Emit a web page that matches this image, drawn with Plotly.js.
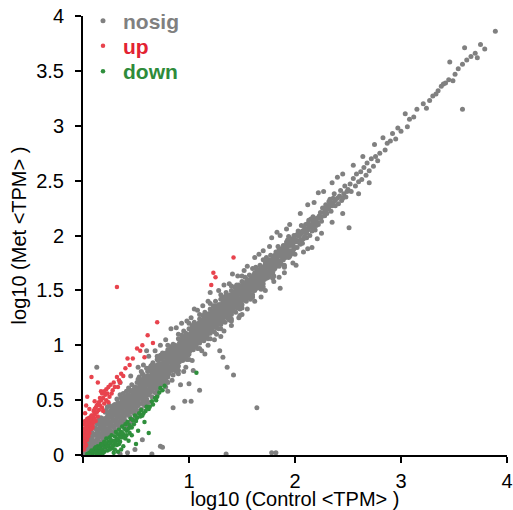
<!DOCTYPE html>
<html>
<head>
<meta charset="utf-8">
<script src="https://cdn.plot.ly/plotly-3.0.1.min.js"></script>
<style>html,body{margin:0;padding:0;background:#fff;}#chart{width:513px;height:510px;}</style>
</head>
<body>
<div id="chart"></div>
<script>
// Series names
const seriesNames = ['nosig', 'up', 'down'];
// Axis tick labels
const xTickVals = [0, 1, 2, 3, 4];
const xTickText = ['', '1', '2', '3', '4'];
const yTickVals = [0, 0.5, 1, 1.5, 2, 2.5, 3, 3.5, 4];
const yTickText = ['0', '0.5', '1', '1.5', '2', '2.5', '3', '3.5', '4'];

// [log10 Control TPM, log10 Met TPM] pairs
const nosigPoints = [
[0.01,0.02],[0.02,0.06],[0.03,0.01],[0.03,0.11],[0.04,0.04],[0.05,0.15],[0.05,0.08],[0.06,0.02],[0.06,0.12],[0.07,0.18],[0.07,0.06],[0.08,0.10],[0.08,0.21],[0.09,0.03],[0.09,0.14],[0.10,0.07],[0.10,0.19],[0.04,0.09],[0.02,0.13],[0.06,0.16],
[0.11,0.12],[0.11,0.25],[0.12,0.05],[0.12,0.18],[0.13,0.29],[0.13,0.10],[0.14,0.22],[0.14,0.15],[0.15,0.32],[0.15,0.08],[0.16,0.19],[0.16,0.27],[0.17,0.12],[0.17,0.34],[0.18,0.23],[0.18,0.16],[0.19,0.30],[0.19,0.10],[0.20,0.26],[0.20,0.19],[0.13,0.20],[0.17,0.26],
[0.21,0.15],[0.21,0.33],[0.22,0.24],[0.22,0.41],[0.23,0.19],[0.23,0.29],[0.24,0.37],[0.24,0.22],[0.25,0.45],[0.25,0.30],[0.26,0.18],[0.26,0.35],[0.27,0.27],[0.27,0.42],[0.28,0.21],[0.28,0.33],[0.29,0.39],[0.29,0.26],[0.30,0.46],[0.30,0.31],[0.22,0.31],[0.24,0.28],[0.26,0.40],[0.28,0.44],[0.30,0.23],
[0.31,0.36],[0.31,0.27],[0.32,0.44],[0.32,0.51],[0.33,0.30],[0.33,0.39],[0.34,0.47],[0.34,0.25],[0.35,0.55],[0.35,0.34],[0.36,0.42],[0.36,0.29],[0.37,0.49],[0.37,0.37],[0.38,0.32],[0.38,0.56],[0.39,0.44],[0.39,0.39],[0.40,0.51],[0.40,0.31],[0.32,0.34],[0.34,0.41],[0.35,0.45],[0.36,0.52],[0.37,0.28],[0.38,0.46],[0.39,0.53],[0.33,0.48],
[0.41,0.45],[0.41,0.37],[0.42,0.55],[0.42,0.49],[0.43,0.41],[0.43,0.61],[0.44,0.35],[0.44,0.52],[0.45,0.46],[0.45,0.58],[0.46,0.40],[0.46,0.64],[0.47,0.50],[0.47,0.44],[0.48,0.56],[0.48,0.38],[0.49,0.62],[0.49,0.48],[0.50,0.53],[0.50,0.43],[0.41,0.58],[0.42,0.42],[0.43,0.50],[0.44,0.59],[0.45,0.39],[0.46,0.54],[0.47,0.59],[0.48,0.47],[0.49,0.41],[0.50,0.61],
[0.51,0.49],[0.51,0.66],[0.52,0.56],[0.52,0.45],[0.53,0.62],[0.53,0.71],[0.54,0.52],[0.54,0.59],[0.55,0.47],[0.55,0.68],[0.56,0.55],[0.56,0.63],[0.57,0.73],[0.57,0.50],[0.58,0.60],[0.58,0.57],[0.59,0.67],[0.59,0.48],[0.60,0.64],[0.60,0.55],[0.51,0.58],[0.52,0.69],[0.53,0.53],[0.54,0.65],[0.55,0.58],[0.56,0.74],[0.57,0.61],[0.58,0.70],[0.59,0.56],[0.60,0.71],
[0.61,0.59],[0.61,0.76],[0.62,0.67],[0.62,0.55],[0.63,0.72],[0.63,0.63],[0.64,0.81],[0.64,0.58],[0.65,0.69],[0.65,0.75],[0.66,0.61],[0.66,0.84],[0.67,0.71],[0.67,0.66],[0.68,0.78],[0.68,0.57],[0.69,0.73],[0.69,0.64],[0.70,0.82],[0.70,0.68],[0.61,0.69],[0.62,0.79],[0.63,0.57],[0.64,0.70],[0.65,0.62],[0.66,0.74],[0.67,0.80],[0.68,0.67],[0.69,0.77],[0.70,0.60],
[0.71,0.72],[0.71,0.86],[0.72,0.65],[0.72,0.79],[0.73,0.91],[0.73,0.74],[0.74,0.68],[0.74,0.83],[0.75,0.77],[0.75,0.89],[0.76,0.71],[0.76,0.64],[0.77,0.85],[0.77,0.80],[0.78,0.93],[0.78,0.73],[0.79,0.67],[0.79,0.87],[0.80,0.81],[0.80,0.76],[0.71,0.78],[0.72,0.88],[0.73,0.69],[0.74,0.76],[0.75,0.70],[0.76,0.92],[0.77,0.74],[0.78,0.83],[0.79,0.78],[0.80,0.90],
[0.81,0.85],[0.81,0.74],[0.82,0.93],[0.82,0.80],[0.83,0.88],[0.83,0.98],[0.84,0.77],[0.84,0.91],[0.85,0.84],[0.85,0.73],[0.86,0.95],[0.86,0.87],[0.87,0.80],[0.87,1.00],[0.88,0.90],[0.88,0.76],[0.89,0.94],[0.89,0.85],[0.90,0.99],[0.90,0.81],[0.81,0.96],[0.82,0.86],[0.83,0.79],[0.84,0.99],[0.85,0.92],[0.86,0.78],[0.87,0.89],[0.88,0.97],[0.89,0.79],[0.90,0.91],
[0.91,0.95],[0.91,0.85],[0.92,1.04],[0.92,0.90],[0.93,0.98],[0.93,1.09],[0.94,0.86],[0.94,1.01],[0.95,0.93],[0.95,1.06],[0.96,0.89],[0.96,0.99],[0.97,1.11],[0.97,0.94],[0.98,1.03],[0.98,0.87],[0.99,0.97],[0.99,1.08],[1.00,1.02],[1.00,0.92],[0.91,1.02],[0.92,0.97],[0.93,0.91],[0.94,1.07],[0.95,0.99],[0.96,1.05],[0.97,0.88],[0.98,1.10],[0.99,0.91],[1.00,1.09],
[1.01,1.05],[1.01,0.95],[1.02,1.13],[1.02,1.00],[1.03,1.08],[1.03,1.18],[1.04,0.96],[1.04,1.11],[1.05,1.03],[1.05,1.15],[1.06,0.99],[1.06,1.09],[1.07,1.19],[1.07,1.04],[1.08,1.12],[1.08,0.97],[1.09,1.07],[1.09,1.17],[1.10,1.10],[1.10,1.02],[1.02,1.07],[1.03,0.99],[1.04,1.16],[1.06,1.14],[1.07,1.01],[1.08,1.06],[1.09,1.13],[1.10,1.19],
[1.11,1.14],[1.11,1.05],[1.12,1.21],[1.12,1.09],[1.13,1.17],[1.13,1.27],[1.14,1.04],[1.14,1.20],[1.15,1.12],[1.15,1.25],[1.16,1.08],[1.16,1.18],[1.17,1.28],[1.17,1.13],[1.18,1.22],[1.18,1.06],[1.19,1.16],[1.19,1.26],[1.20,1.19],[1.20,1.11],[1.12,1.15],[1.13,1.10],[1.14,1.24],[1.16,1.23],[1.17,1.09],[1.18,1.15],[1.19,1.21],[1.20,1.27],
[1.21,1.23],[1.21,1.13],[1.22,1.30],[1.22,1.18],[1.23,1.26],[1.23,1.36],[1.24,1.12],[1.24,1.28],[1.25,1.21],[1.25,1.33],[1.26,1.16],[1.26,1.26],[1.27,1.35],[1.27,1.22],[1.28,1.30],[1.28,1.15],[1.29,1.25],[1.29,1.34],[1.30,1.28],[1.30,1.19],[1.22,1.24],[1.24,1.33],[1.25,1.17],[1.27,1.29],[1.28,1.37],[1.30,1.23],
[1.31,1.32],[1.31,1.22],[1.32,1.39],[1.32,1.27],[1.33,1.35],[1.33,1.44],[1.34,1.21],[1.34,1.37],[1.35,1.30],[1.35,1.42],[1.36,1.25],[1.36,1.34],[1.37,1.45],[1.37,1.29],[1.38,1.38],[1.38,1.23],[1.39,1.33],[1.39,1.43],[1.40,1.36],[1.40,1.28],[1.32,1.33],[1.34,1.41],[1.35,1.26],[1.37,1.36],[1.39,1.40],
[1.41,1.40],[1.41,1.31],[1.42,1.48],[1.42,1.36],[1.43,1.44],[1.43,1.53],[1.44,1.30],[1.44,1.46],[1.45,1.39],[1.45,1.51],[1.46,1.34],[1.46,1.43],[1.47,1.55],[1.47,1.38],[1.48,1.47],[1.48,1.33],[1.49,1.42],[1.49,1.52],[1.50,1.45],[1.50,1.37],[1.42,1.42],[1.44,1.50],[1.46,1.48],[1.48,1.40],
[1.51,1.50],[1.51,1.41],[1.52,1.57],[1.52,1.45],[1.53,1.53],[1.53,1.62],[1.54,1.40],[1.54,1.55],[1.55,1.48],[1.55,1.60],[1.56,1.44],[1.56,1.53],[1.57,1.64],[1.57,1.47],[1.58,1.56],[1.58,1.42],[1.59,1.51],[1.59,1.61],[1.60,1.55],[1.60,1.46],[1.53,1.47],[1.56,1.59],
[1.61,1.59],[1.61,1.50],[1.62,1.66],[1.62,1.54],[1.63,1.62],[1.63,1.71],[1.64,1.52],[1.64,1.64],[1.65,1.57],[1.65,1.69],[1.66,1.53],[1.66,1.62],[1.67,1.73],[1.67,1.57],[1.68,1.65],[1.68,1.51],[1.69,1.60],[1.69,1.70],[1.70,1.64],[1.70,1.56],
[1.71,1.68],[1.71,1.60],[1.72,1.75],[1.72,1.63],[1.73,1.71],[1.73,1.80],[1.74,1.62],[1.74,1.73],[1.75,1.67],[1.76,1.78],[1.76,1.64],[1.77,1.72],[1.77,1.82],[1.78,1.68],[1.78,1.76],[1.79,1.61],[1.80,1.74],[1.80,1.80],
[1.81,1.78],[1.81,1.70],[1.82,1.85],[1.83,1.74],[1.83,1.81],[1.84,1.90],[1.85,1.72],[1.85,1.83],[1.86,1.77],[1.87,1.88],[1.87,1.74],[1.88,1.82],[1.89,1.91],[1.89,1.78],[1.90,1.85],[1.90,1.71],
[1.91,1.87],[1.91,1.80],[1.92,1.94],[1.93,1.83],[1.93,1.90],[1.94,1.99],[1.95,1.81],[1.95,1.92],[1.96,1.86],[1.97,1.97],[1.97,1.84],[1.98,1.91],[1.99,2.00],[1.99,1.88],[2.00,1.94],
[2.01,1.96],[2.02,1.89],[2.03,2.04],[2.04,1.95],[2.05,2.01],[2.06,2.09],[2.07,1.93],[2.08,2.03],[2.09,1.99],[2.10,2.10],[2.11,1.98],[2.12,2.05],[2.13,2.14],[2.14,2.00],[2.15,2.08],[2.16,2.04],[2.17,2.17],[2.18,2.06],[2.19,2.12],[2.20,2.09],[2.05,1.92],[2.15,2.15],
[2.21,2.16],[2.22,2.10],[2.24,2.21],[2.25,2.13],[2.26,2.25],[2.28,2.18],[2.29,2.28],[2.30,2.20],[2.32,2.26],[2.33,2.33],[2.34,2.22],[2.36,2.30],[2.37,2.38],[2.38,2.27],[2.40,2.34],[2.41,2.29],[2.43,2.41],[2.44,2.32],[2.46,2.38],[2.47,2.45],[2.48,2.35],[2.50,2.42],
[2.52,2.47],[2.53,2.40],[2.55,2.52],[2.57,2.45],[2.58,2.56],[2.60,2.49],[2.62,2.58],[2.63,2.51],[2.65,2.62],[2.67,2.55],[2.68,2.66],[2.70,2.59],[2.72,2.70],[2.74,2.63],[2.76,2.72],[2.78,2.68],
[2.80,2.75],[2.83,2.89],[2.85,2.78],[2.87,2.84],[2.90,2.86],[2.92,2.93],[2.95,2.88],[2.97,2.98],[3.00,2.95],[3.04,3.11],[3.06,2.99],[3.08,3.06],[3.12,3.08],[3.15,3.15],
[3.21,3.20],[3.24,3.16],[3.27,3.23],[3.30,3.27],[3.33,3.29],[3.35,3.32],[3.38,3.36],[3.40,3.38],[3.42,3.39],[3.45,3.42],[3.46,3.58],[3.49,3.41],[3.51,3.47],[3.54,3.52],[3.58,3.56],[3.60,3.71],[3.62,3.60],[3.66,3.63],[3.70,3.66],[3.72,3.62],[3.75,3.74],[3.79,3.70],[3.89,3.86],[3.58,3.15],
[0.13,0.80],[0.56,0.14],[0.75,0.07],[0.49,0.05],[0.73,0.08],[0.85,0.43],[0.92,0.64],[0.96,0.49],[1.02,0.49],[1.00,0.65],[1.04,0.77],[1.10,0.59],[1.32,0.89],[1.36,0.80],[1.42,0.73],[1.64,0.43],[1.26,1.10],[1.29,0.95],[1.40,1.22],[1.48,1.27],[1.86,1.52],[2.01,1.73],[2.16,1.89],[2.21,1.97],[2.51,2.07],[0.35,0.01],[0.42,0.02],[0.65,0.01],[1.35,0.01],[1.78,0.02],[1.82,0.02],[0.60,0.95],[0.83,1.15],[1.05,1.33],[1.20,1.48],[1.41,1.65],[1.78,1.98],[1.83,2.03],[2.22,2.39],[2.40,2.53],
[0.01,0.09],[0.02,0.03],[0.03,0.17],[0.04,0.13],[0.05,0.01],[0.05,0.11],[0.07,0.03],[0.07,0.13],[0.08,0.16],[0.09,0.08],[0.09,0.20],[0.10,0.12],[0.11,0.03],[0.11,0.18],[0.12,0.10],[0.12,0.24],[0.13,0.14],[0.14,0.05],[0.14,0.28],[0.15,0.17],[0.15,0.24],[0.16,0.11],[0.16,0.31],[0.17,0.07],[0.18,0.20],[0.18,0.29],[0.19,0.14],[0.19,0.24],[0.20,0.09],[0.20,0.33],
[0.21,0.21],[0.21,0.39],[0.22,0.18],[0.22,0.28],[0.23,0.35],[0.23,0.44],[0.24,0.17],[0.24,0.32],[0.25,0.25],[0.25,0.38],[0.26,0.22],[0.26,0.30],[0.27,0.36],[0.27,0.20],[0.28,0.26],[0.28,0.39],[0.29,0.31],[0.29,0.45],[0.30,0.27],[0.30,0.37],[0.31,0.31],[0.31,0.42],[0.32,0.39],[0.32,0.28],[0.33,0.35],[0.33,0.44],[0.34,0.30],[0.34,0.36],[0.35,0.40],[0.35,0.29],[0.36,0.47],[0.36,0.35],[0.37,0.42],[0.37,0.33],[0.38,0.39],[0.38,0.50],[0.39,0.34],[0.39,0.48],[0.40,0.45],[0.40,0.38],
[0.41,0.41],[0.41,0.51],[0.42,0.38],[0.42,0.46],[0.43,0.45],[0.43,0.55],[0.44,0.44],[0.44,0.40],[0.45,0.51],[0.45,0.43],[0.46,0.47],[0.46,0.58],[0.47,0.40],[0.47,0.55],[0.48,0.51],[0.48,0.60],[0.49,0.45],[0.49,0.56],[0.50,0.48],[0.50,0.57],[0.51,0.53],[0.51,0.45],[0.52,0.61],[0.52,0.50],[0.53,0.57],[0.53,0.47],[0.54,0.55],[0.54,0.69],[0.55,0.52],[0.55,0.62],[0.56,0.59],[0.56,0.51],[0.57,0.56],[0.57,0.66],[0.58,0.53],[0.58,0.64],[0.59,0.60],[0.59,0.71],[0.60,0.51],[0.60,0.59],
[0.61,0.64],[0.61,0.55],[0.62,0.72],[0.62,0.60],[0.63,0.67],[0.63,0.77],[0.64,0.62],[0.64,0.66],[0.65,0.71],[0.65,0.58],[0.66,0.65],[0.66,0.78],[0.67,0.62],[0.67,0.75],[0.68,0.70],[0.68,0.62],[0.69,0.68],[0.69,0.81],[0.70,0.73],[0.70,0.64],[0.71,0.75],[0.71,0.67],[0.72,0.70],[0.72,0.83],[0.73,0.78],[0.73,0.64],[0.74,0.73],[0.74,0.87],[0.75,0.80],[0.75,0.67],[0.76,0.76],[0.76,0.84],[0.77,0.70],[0.77,0.89],[0.78,0.79],[0.78,0.68],[0.79,0.82],[0.79,0.73],[0.80,0.86],[0.80,0.71],
[0.81,0.80],[0.81,0.90],[0.82,0.77],[0.82,0.89],[0.83,0.84],[0.83,0.93],[0.84,0.82],[0.84,0.87],[0.85,0.96],[0.85,0.80],[0.86,0.83],[0.86,0.91],[0.87,0.85],[0.87,0.94],[0.88,0.86],[0.88,0.81],[0.89,0.89],[0.89,0.98],[0.90,0.86],[0.90,0.95],[0.91,0.90],[0.91,0.99],[0.92,0.87],[0.92,0.94],[0.93,1.02],[0.93,0.95],[0.94,0.91],[0.94,0.97],[0.95,0.89],[0.95,1.02],[0.96,0.95],[0.96,1.08],[0.97,0.98],[0.97,1.05],[0.98,0.93],[0.98,1.00],[0.99,1.03],[0.99,0.95],[1.00,0.98],[1.00,1.05],
[1.01,1.00],[1.01,1.10],[1.02,0.97],[1.02,1.04],[1.03,1.03],[1.03,1.13],[1.04,1.06],[1.04,1.01],[1.05,1.09],[1.05,0.99],[1.06,1.04],[1.06,1.17],[1.07,1.08],[1.07,1.13],[1.08,1.02],[1.08,1.16],[1.09,1.10],[1.09,1.03],[1.10,1.06],[1.10,1.14],[1.11,1.09],[1.11,1.19],[1.12,1.06],[1.12,1.13],[1.13,1.21],[1.13,1.14],[1.14,1.08],[1.14,1.16],[1.15,1.18],[1.15,1.07],[1.16,1.13],[1.16,1.27],[1.17,1.17],[1.17,1.22],[1.18,1.11],[1.18,1.26],[1.19,1.12],[1.19,1.19],[1.20,1.23],[1.20,1.15],
[1.21,1.18],[1.21,1.29],[1.22,1.15],[1.22,1.21],[1.23,1.31],[1.23,1.20],[1.24,1.24],[1.24,1.17],[1.25,1.27],[1.25,1.36],[1.26,1.21],[1.26,1.31],[1.27,1.19],[1.27,1.25],[1.28,1.34],[1.28,1.22],[1.29,1.29],[1.29,1.20],[1.30,1.32],[1.30,1.37],[1.31,1.27],[1.31,1.37],[1.32,1.24],[1.32,1.30],[1.33,1.40],[1.33,1.26],[1.34,1.33],[1.34,1.28],[1.35,1.35],[1.35,1.45],[1.36,1.30],[1.36,1.39],[1.37,1.33],[1.37,1.40],[1.38,1.27],[1.38,1.43],[1.39,1.37],[1.39,1.30],[1.40,1.41],[1.40,1.32],
[1.41,1.35],[1.41,1.45],[1.42,1.39],[1.42,1.33],[1.43,1.48],[1.43,1.38],[1.44,1.42],[1.44,1.35],[1.45,1.47],[1.45,1.43],[1.46,1.38],[1.46,1.52],[1.47,1.42],[1.47,1.48],[1.48,1.37],[1.48,1.51],[1.49,1.46],[1.49,1.39],[1.50,1.49],[1.50,1.54],[1.51,1.45],[1.51,1.55],[1.52,1.49],[1.52,1.42],[1.53,1.57],[1.54,1.51],[1.54,1.46],[1.55,1.53],[1.55,1.43],[1.56,1.49],[1.57,1.56],[1.57,1.52],[1.58,1.60],[1.58,1.50],[1.59,1.46],[1.59,1.56],[1.60,1.51],[1.60,1.62],
[1.61,1.55],[1.61,1.64],[1.62,1.58],[1.62,1.50],[1.63,1.66],[1.63,1.56],[1.64,1.60],[1.64,1.69],[1.65,1.53],[1.65,1.62],[1.66,1.58],[1.66,1.67],[1.67,1.61],[1.67,1.53],[1.68,1.70],[1.68,1.59],[1.69,1.65],[1.69,1.55],[1.70,1.60],[1.70,1.69],[1.71,1.64],[1.72,1.69],[1.73,1.61],[1.73,1.66],[1.74,1.77],[1.75,1.72],[1.75,1.62],[1.76,1.70],[1.77,1.67],[1.78,1.72],[1.79,1.66],[1.79,1.78],[1.80,1.69],
[1.81,1.74],[1.82,1.72],[1.82,1.79],[1.84,1.76],[1.84,1.84],[1.86,1.81],[1.86,1.74],[1.88,1.78],[1.88,1.86],[1.90,1.80],[1.91,1.83],[1.92,1.89],[1.94,1.86],[1.94,1.80],[1.96,1.91],[1.96,1.83],[1.98,1.86],[1.98,1.95],[2.00,1.89],[2.01,2.00],[2.03,1.94],[2.04,1.99],[2.06,1.96],[2.07,2.04],[2.08,1.97],[2.10,2.05],[2.11,2.02],[2.13,2.07],[2.14,2.10],[2.16,2.09],[2.18,2.13],[2.19,2.05],[2.21,2.12],[2.23,2.18],[2.25,2.17],[2.27,2.21],[2.29,2.23],[2.31,2.24],[2.33,2.28],[2.35,2.27],[2.38,2.32],[2.42,2.36],[2.45,2.34],[2.49,2.40],
[0.45,0.50],[0.47,0.47],[0.49,0.53],[0.51,0.61],[0.53,0.66],[0.55,0.55],[0.57,0.69],[0.59,0.63],[0.61,0.72],[0.63,0.69],[0.65,0.66],[0.67,0.77],[0.69,0.70],[0.71,0.81],[0.73,0.83],[0.75,0.74],[0.77,0.77],[0.79,0.91],[0.81,0.88],[0.83,0.91],[0.85,0.87],[0.87,0.97],[0.89,0.92],[0.91,0.92],[0.93,1.05],[0.95,0.96],[0.97,1.01],[0.99,1.05],[1.01,1.07],[1.03,1.05],[1.05,1.12],[1.07,1.10],[1.09,1.20],[1.11,1.16],[1.13,1.19],[1.15,1.22],[1.17,1.19],[1.19,1.29],[1.21,1.26],[1.23,1.23],[1.25,1.30],[1.27,1.32],[1.29,1.37],[1.31,1.35],[1.33,1.32],[1.35,1.38],[1.37,1.42],[1.39,1.46],[1.41,1.43],[1.43,1.41],[1.45,1.45],[1.47,1.51],[1.49,1.49],[1.51,1.53],[1.53,1.51],[1.55,1.56],[1.57,1.59],[1.59,1.58],[1.61,1.62],[1.63,1.59],[1.65,1.65],[1.67,1.68],[1.69,1.67],[1.71,1.72],[1.73,1.75],[1.75,1.76],[1.77,1.75],[1.79,1.81],[1.81,1.82],[1.83,1.78],[1.85,1.87],[1.87,1.84],[1.89,1.88],[1.91,1.91],[1.93,1.96],[1.95,1.95],[1.97,1.93],[1.99,1.97],[2.02,2.01],[2.06,2.02],[2.09,2.07],[2.12,2.11],[2.17,2.12],[2.20,2.15],[2.24,2.16],[2.28,2.25],[2.32,2.31],[2.36,2.34],
[0.95,1.13],[1.00,1.15],[1.05,1.21],[1.10,1.24],[1.15,1.30],[1.20,1.33],[1.25,1.40],[1.30,1.42],[0.90,1.06],[0.85,1.01],[0.80,0.96],[0.75,0.93],[0.70,0.87],[0.65,0.82],[1.35,1.48],[1.40,1.50],[1.45,1.55],[1.50,1.58],
[0.30,0.12],[0.35,0.19],[0.40,0.24],[0.45,0.30],[0.50,0.36],[0.55,0.42],[0.60,0.47],[0.65,0.53],[0.25,0.08],[0.20,0.05],[0.42,0.27],[0.48,0.33],[0.52,0.40],[0.58,0.45],
[0.35,0.66],[0.45,0.72],[0.52,0.80],[0.62,0.90],[0.68,0.95],[0.78,1.05],[0.88,1.16],[0.93,1.20],[1.02,1.25],[1.08,1.32],[1.18,1.40],[1.28,1.50],[1.33,1.55],[1.46,1.63],[1.55,1.72],[1.62,1.80],[1.70,1.86],[1.76,1.90],[1.86,2.00],[1.95,2.10],[2.05,2.20],[2.12,2.28],[2.27,2.40],[2.35,2.48],[2.45,2.56],[2.55,2.64],[2.64,2.72],[2.75,2.83],[0.57,0.82],[0.73,1.00],[0.98,1.22],[1.13,1.36],[1.38,1.56],[1.52,1.68],[1.66,1.83],[1.92,2.06],[2.18,2.30],
[0.55,0.36],[0.63,0.48],[0.70,0.55],[0.78,0.62],[0.84,0.68],[0.90,0.74],[0.97,0.80],[1.03,0.86],[1.12,0.95],[1.18,1.00],[1.24,1.05],[1.33,1.13],[1.40,1.18],[1.47,1.25],[1.55,1.33],[1.62,1.40],[1.72,1.50],[1.80,1.58],[1.90,1.66],[1.98,1.75],[2.08,1.85],[2.25,2.02],[2.35,2.12],[2.45,2.20],[2.60,2.38],[2.70,2.48],[0.80,0.58],[0.95,0.76],[1.15,0.92],[1.30,1.08],[1.50,1.28],[1.68,1.44],[1.85,1.62],[2.12,1.88],
[0.55,0.76],[0.60,0.79],[0.70,0.90],[0.80,1.00],[0.90,1.10],[1.00,1.20],[1.10,1.28],[1.20,1.38],[1.30,1.46],[1.40,1.54],[1.50,1.63],[1.60,1.70],[1.70,1.78],[0.60,0.44],[0.70,0.56],[0.80,0.66],[0.90,0.77],[1.00,0.87],[1.10,0.97],[1.20,1.06],[1.30,1.15],[1.40,1.24],[1.50,1.34],[1.60,1.44],[1.70,1.53],[1.80,1.63],[1.90,1.73],[2.00,1.83]
];

const upPoints = [
[0.01,0.05],[0.01,0.12],[0.01,0.20],[0.01,0.28],[0.02,0.08],[0.02,0.17],[0.02,0.24],[0.02,0.31],[0.03,0.14],[0.03,0.21],[0.03,0.27],[0.04,0.18],[0.04,0.25],[0.04,0.33],[0.05,0.22],[0.05,0.29],[0.06,0.26],[0.06,0.20],[0.06,0.34],[0.07,0.24],[0.07,0.30],[0.08,0.28],[0.08,0.36],[0.09,0.31],[0.09,0.25],[0.10,0.34],[0.10,0.40],[0.11,0.37],[0.12,0.31],[0.12,0.43],[0.13,0.39],[0.14,0.35],[0.14,0.46],[0.15,0.41],[0.16,0.45],[0.17,0.50],[0.18,0.43],[0.19,0.52],[0.20,0.47],[0.21,0.55],
[0.02,0.38],[0.03,0.45],[0.04,0.53],[0.08,0.71],[0.14,0.66],[0.23,0.56],[0.25,0.53],[0.28,0.59],[0.32,0.71],[0.22,0.60],[0.26,0.64],[0.30,0.62],[0.34,0.68],[0.36,0.74],[0.40,0.79],[0.38,0.72],[0.44,0.82],[0.47,0.88],[0.51,0.97],[0.54,0.95],[0.58,0.89],[0.61,1.09],[0.70,1.21],[0.32,1.53],[1.23,1.66],[1.25,1.62],[1.21,1.55],[1.42,1.80],[0.66,1.02],[0.56,1.00],[0.42,0.88],[0.29,0.66],[0.17,0.58],[0.11,0.49],[0.06,0.42],[0.24,0.48],[0.19,0.40],
[0.01,0.16],[0.01,0.24],[0.02,0.12],[0.02,0.21],[0.02,0.28],[0.03,0.09],[0.03,0.18],[0.03,0.24],[0.03,0.31],[0.04,0.14],[0.04,0.21],[0.04,0.29],[0.05,0.17],[0.05,0.25],[0.05,0.33],[0.06,0.23],[0.06,0.30],[0.07,0.27],[0.07,0.34],[0.08,0.24],[0.08,0.32],[0.09,0.28],[0.09,0.36],[0.10,0.30],[0.11,0.33],[0.11,0.42],[0.13,0.45],[0.15,0.48],[0.16,0.52],[0.18,0.56],[0.20,0.58],[0.22,0.50],[0.24,0.62],[0.27,0.56],[0.33,0.62],[0.35,0.66]
];

const downPoints = [
[0.04,0.01],[0.06,0.02],[0.08,0.04],[0.09,0.01],[0.10,0.03],[0.11,0.06],[0.12,0.02],[0.13,0.05],[0.14,0.01],[0.14,0.08],[0.15,0.04],[0.16,0.07],[0.17,0.02],[0.17,0.10],[0.18,0.05],[0.19,0.09],[0.20,0.03],[0.20,0.12],[0.21,0.07],[0.22,0.10],[0.22,0.15],[0.23,0.04],[0.24,0.12],[0.24,0.08],[0.25,0.16],[0.26,0.11],[0.27,0.06],[0.27,0.18],[0.28,0.13],[0.29,0.09],[0.30,0.17],[0.31,0.12],[0.31,0.21],[0.32,0.15],[0.33,0.19],[0.34,0.10],[0.34,0.23],[0.35,0.17],[0.36,0.21],[0.37,0.26],[0.38,0.19],[0.39,0.24],[0.40,0.28],[0.41,0.22],[0.42,0.30],[0.44,0.27],[0.45,0.33],[0.47,0.32],[0.49,0.36],[0.51,0.34],[0.53,0.38],[0.55,0.41],[0.57,0.38],[0.60,0.44],[0.63,0.44],[0.65,0.49],[0.68,0.52],[0.70,0.53],[0.72,0.57],[0.73,0.61],[0.75,0.59],[1.07,0.75],
[0.29,0.02],[0.36,0.05],[0.43,0.13],[0.46,0.18],[0.50,0.10],[0.52,0.22],[0.38,0.08],[0.40,0.15],[0.33,0.03],[0.46,0.25],[0.58,0.30],[0.62,0.20],
[0.12,0.07],[0.15,0.01],[0.16,0.03],[0.18,0.09],[0.19,0.02],[0.21,0.11],[0.23,0.08],[0.25,0.05],[0.26,0.14],[0.28,0.08],[0.30,0.05],[0.30,0.13],[0.32,0.09],[0.33,0.14],[0.35,0.12],[0.36,0.16],[0.37,0.20],[0.39,0.16],[0.41,0.18],[0.43,0.24],[0.44,0.20],[0.48,0.28],[0.50,0.31],[0.54,0.35],[0.56,0.36],[0.59,0.40],[0.62,0.42],[0.66,0.46],[0.69,0.50],[0.77,0.63]
];

const markerColors = ['#808080', '#e8434d', '#2f8f3c'];
const markerSizes = [5, 4.5, 4.5];
const textColors = ['#808080', '#e32232', '#2e8b3a'];
const legendIds = ['legend', 'legend2', 'legend3'];
const legendY = [1.035, 0.978, 0.920];

function mk(points, i) {
  return {
    type: 'scatter', mode: 'markers',
    x: points.map(p => p[0]), y: points.map(p => p[1]),
    name: seriesNames[i],
    legend: legendIds[i],
    marker: {color: markerColors[i], size: markerSizes[i], line: {width: 0}},
    hoverinfo: 'x+y'
  };
}

const data = [mk(nosigPoints, 0), mk(upPoints, 1), mk(downPoints, 2)];

const fontFam = 'Arial, "Liberation Sans", sans-serif';
function legendCfg(i) {
  return {
    x: 0.0, y: legendY[i], xanchor: 'left', yanchor: 'top',
    bgcolor: 'rgba(0,0,0,0)', borderwidth: 0, itemsizing: 'trace',
    font: {family: fontFam, size: 21, weight: 'bold', color: textColors[i]}
  };
}

const layout = {
  width: 513, height: 510,
  margin: {l: 83, r: 6, t: 16, b: 55, autoexpand: false},
  paper_bgcolor: '#fff', plot_bgcolor: '#fff',
  font: {family: fontFam, color: '#000', size: 20},
  showlegend: true,
  legend: legendCfg(0),
  legend2: legendCfg(1),
  legend3: legendCfg(2),
  xaxis: {
    range: [0, 4], tickvals: xTickVals, ticktext: xTickText,
    showline: true, linecolor: '#000', linewidth: 2,
    ticks: 'outside', ticklen: 6, tickwidth: 2, tickcolor: '#000',
    ticklabelstandoff: 1,
    showgrid: false, zeroline: false,
    tickfont: {size: 20},
    title: {text: 'log10 (Control &lt;TPM&gt; )', font: {size: 20}, standoff: 2}
  },
  yaxis: {
    range: [0, 4], tickvals: yTickVals, ticktext: yTickText,
    showline: true, linecolor: '#000', linewidth: 2,
    ticks: 'outside', ticklen: 6, tickwidth: 2, tickcolor: '#000',
    ticklabelstandoff: 7,
    showgrid: false, zeroline: false,
    tickfont: {size: 20},
    title: {text: 'log10 (Met &lt;TPM&gt; )', font: {size: 20}, standoff: 4}
  }
};

Plotly.newPlot('chart', data, layout, {displayModeBar: false, staticPlot: true});
</script>
</body>
</html>
